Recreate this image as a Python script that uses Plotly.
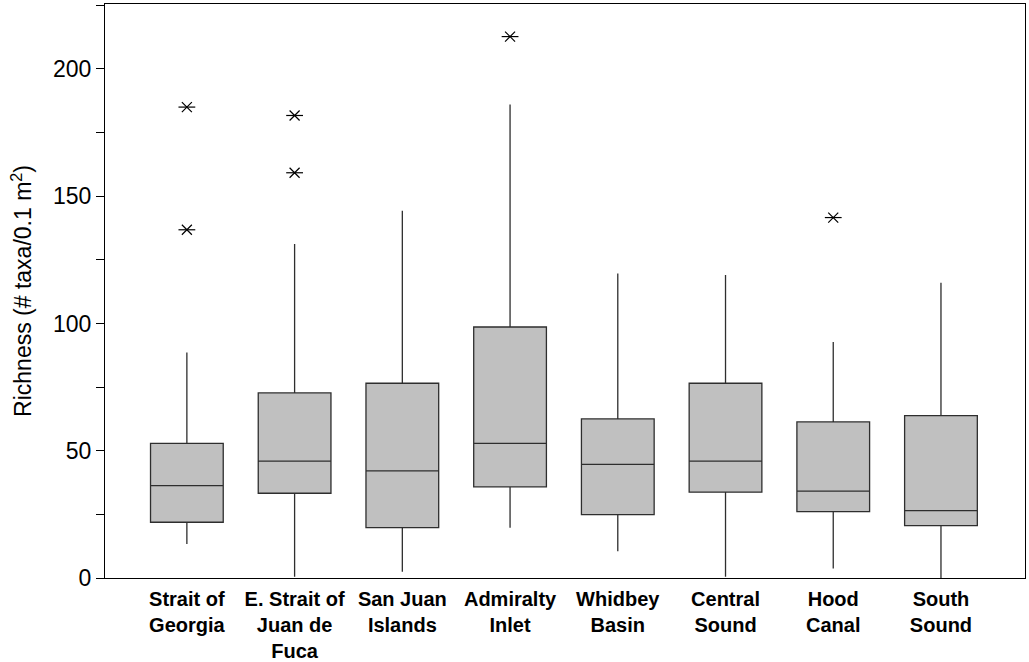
import plotly.graph_objects as go

categories = ["Strait of<br>Georgia", "E. Strait of<br>Juan de<br>Fuca", "San Juan<br>Islands",
              "Admiralty<br>Inlet", "Whidbey<br>Basin", "Central<br>Sound", "Hood<br>Canal",
              "South<br>Sound"]
lower_whisker = [13.4, 0.5, 2.5, 19.7, 10.5, 0.5, 3.7, 0.0]
q1 = [21.9, 33.3, 19.8, 35.8, 24.9, 33.7, 26.1, 20.6]
median = [36.3, 45.9, 42.1, 52.9, 44.6, 45.9, 34.1, 26.5]
q3 = [52.9, 72.7, 76.5, 98.6, 62.5, 76.5, 61.3, 63.8]
upper_whisker = [88.6, 131.2, 144.3, 186.0, 119.6, 119.0, 92.7, 116.0]
outlier_cat = [0, 0, 1, 1, 3, 6]
outlier_val = [185.0, 136.8, 181.7, 159.2, 212.7, 141.6]
y_major_step = 50
y_minor_step = 25

pos = list(range(len(categories)))

fig = go.Figure()
fig.add_trace(go.Box(
    x=pos, q1=q1, median=median, q3=q3,
    lowerfence=lower_whisker, upperfence=upper_whisker,
    width=0.675, whiskerwidth=0, boxpoints=False,
    fillcolor="#c0c0c0", line=dict(color="#2e2e2e", width=1.3),
    hoverinfo="skip", showlegend=False,
))
ox = [pos[i] for i in outlier_cat]
fig.add_trace(go.Scatter(
    x=ox, y=outlier_val, mode="markers",
    marker=dict(symbol="x-thin-open", size=10, color="black", line=dict(color="black", width=1.2)),
    showlegend=False, hoverinfo="skip",
))
fig.add_trace(go.Scatter(
    x=ox, y=outlier_val, mode="markers",
    marker=dict(symbol="line-ew-open", size=12, color="black", line=dict(color="black", width=1.2)),
    showlegend=False, hoverinfo="skip",
))

fig.update_layout(
    width=1029, height=662,
    margin=dict(l=105, r=4, t=4, b=83.5),
    paper_bgcolor="white", plot_bgcolor="white",
    font=dict(family="Liberation Sans, Arial, sans-serif", color="black"),
    xaxis=dict(
        range=[-0.76, 7.78], tickvals=pos, ticktext=["<b>%s</b>" % c for c in categories],
        tickfont=dict(size=20), ticks="", ticklabelstandoff=3, automargin=False,
        showgrid=False, zeroline=False,
        showline=True, linecolor="black", linewidth=1.2, mirror=True,
    ),
    yaxis=dict(
        range=[0, 225.5], tick0=0, dtick=y_major_step, automargin=False,
        tickfont=dict(size=23), ticks="outside", ticklen=8, tickcolor="black", tickwidth=1,
        minor=dict(tick0=0, dtick=y_minor_step, ticks="outside", ticklen=8, tickcolor="black",
                   tickwidth=1, showgrid=False),
        showgrid=False, zeroline=False,
        showline=True, linecolor="black", linewidth=1.2, mirror=True,
        title=dict(text="Richness (# taxa/0.1 m<sup>2</sup>)", font=dict(size=23), standoff=14),
    ),
)

fig.write_html("out.html")
